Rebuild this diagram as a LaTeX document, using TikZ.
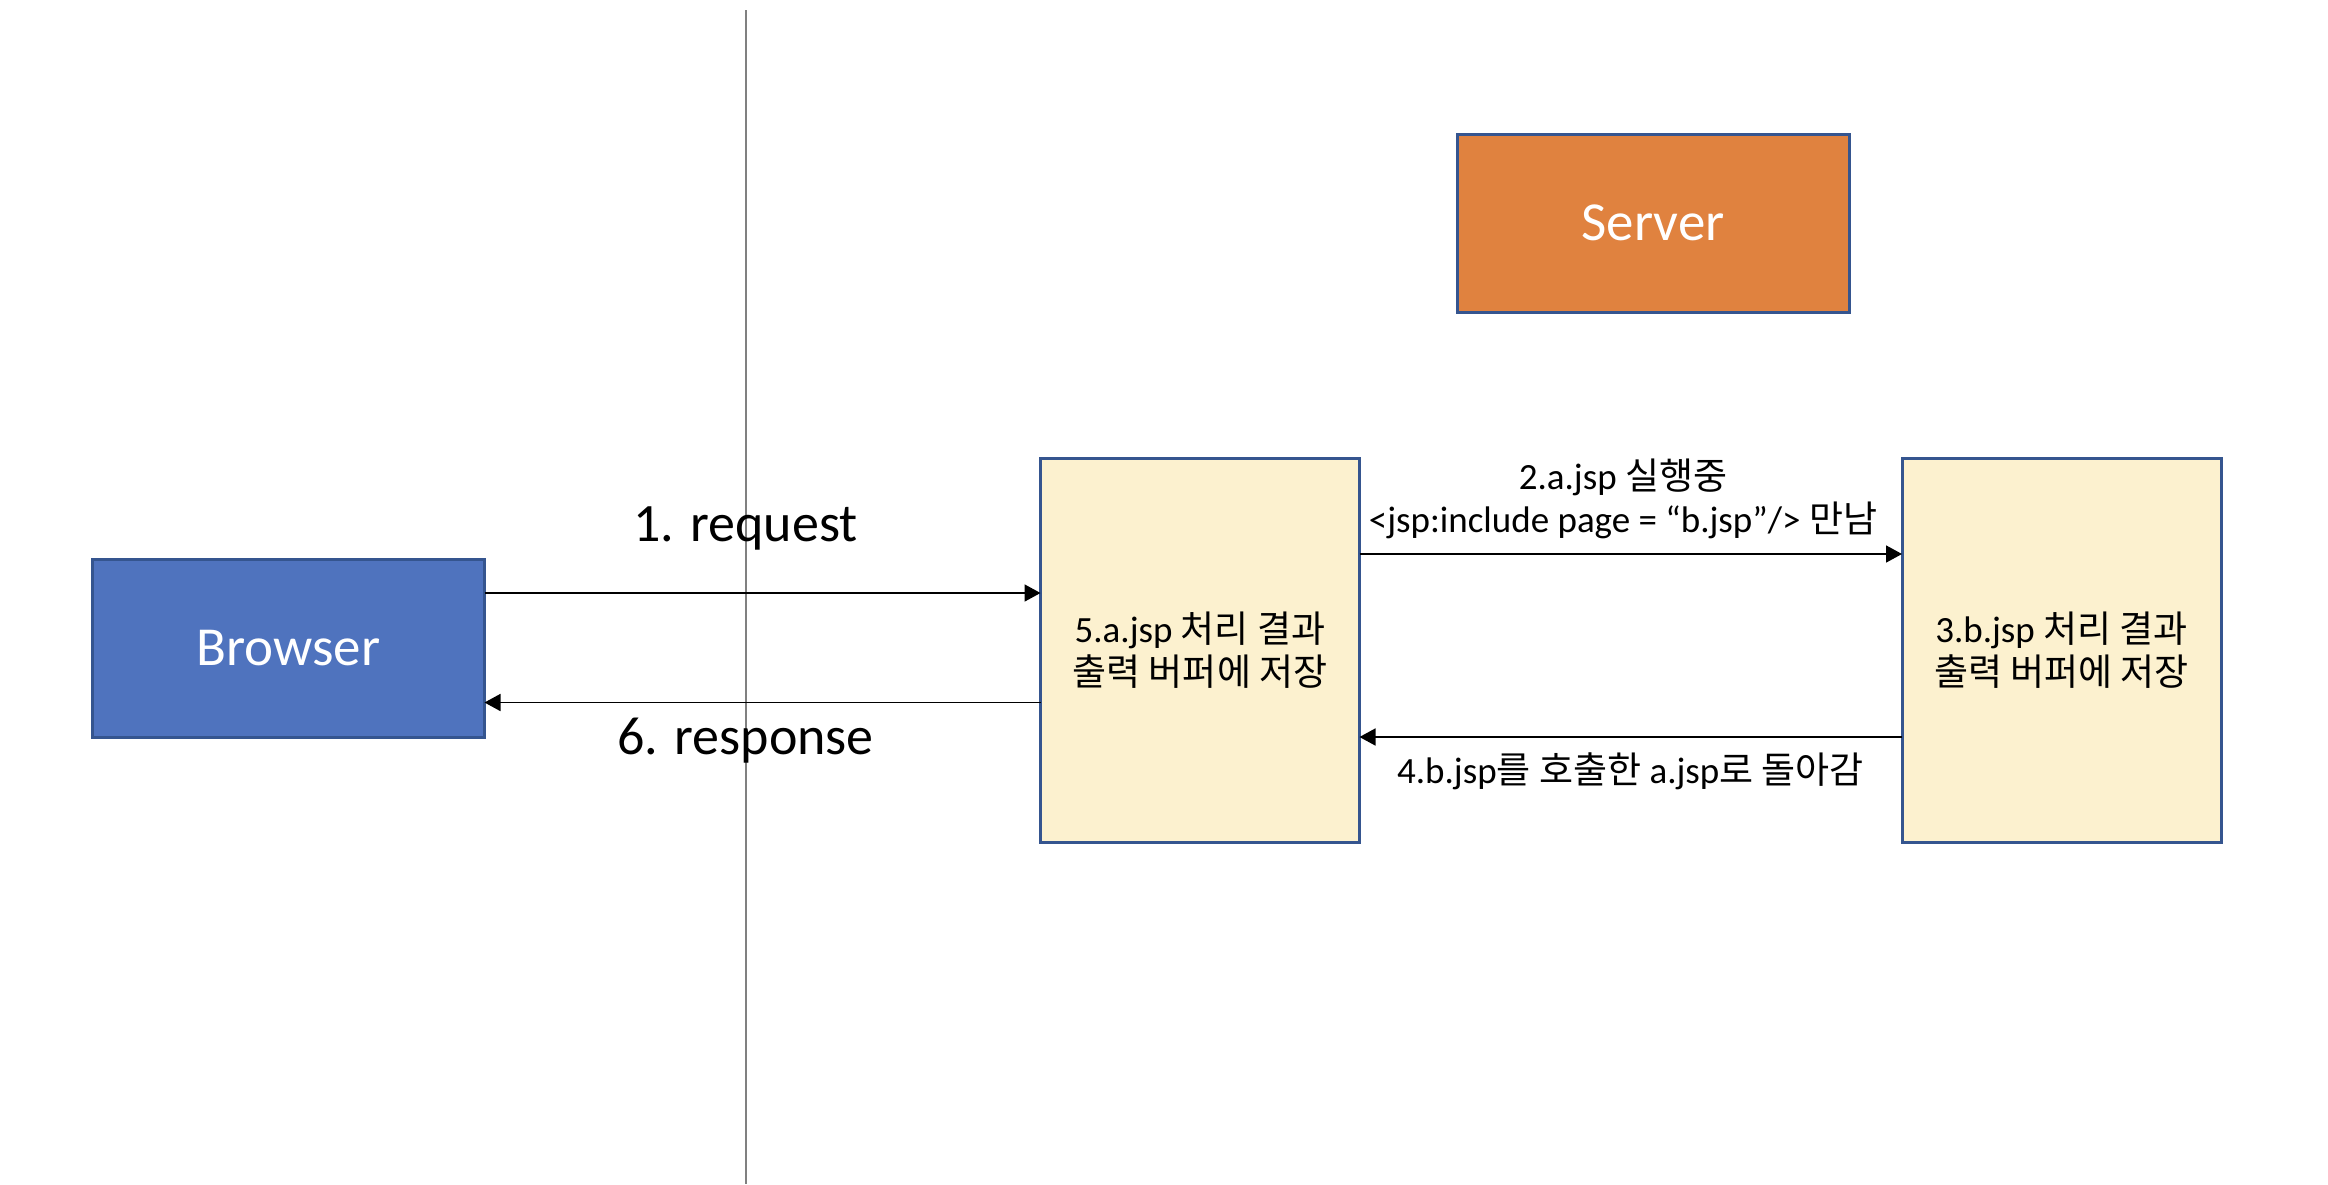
\documentclass[tikz,border=0pt]{standalone}
\usepackage{fontspec}
\setmainfont{Carlito}
\newfontfamily\kr{Noto Sans CJK KR}
\usetikzlibrary{arrows.meta,positioning}
\definecolor{boxline}{HTML}{35558F}
\definecolor{browserfill}{HTML}{4F73BE}
\definecolor{serverfill}{HTML}{E0823F}
\definecolor{pagefill}{HTML}{FCF1CF}
\tikzset{
	box/.style={draw=boxline, line width=1.5pt, outer sep=0pt, align=center, inner sep=0pt},
	big box/.style={box, minimum width=196pt, minimum height=89pt, text=white,
		font=\fontsize{27.5}{33}\selectfont},
	page box/.style={box, fill=pagefill, minimum width=159.5pt, minimum height=192pt,
		font=\fontsize{18.5}{21.5}\selectfont},
	ar/.style={-{Triangle[length=8pt,width=8.5pt]}, line width=0.85pt},
	step label/.style={font=\fontsize{18.5}{21.5}\selectfont, align=center, inner sep=0pt},
	call label/.style={font=\fontsize{27}{32}\selectfont, inner sep=0pt}
}
\begin{document}
\begin{tikzpicture}[x=0.5pt, y=-0.5pt]
	\useasboundingbox (0,0) rectangle (2328,1184);
	% client / server divider
	\draw[line width=1pt, gray] (745.5,10) -- (745.5,1184);
	\node[big box, fill=serverfill] (server) at (1653,223) {Server};
	\node[big box, fill=browserfill] (browser) at (288.5,648) {Browser};
	\node[page box] (ajsp) at (1200,650) {5.a.jsp {\kr 처리 결과}\\{\kr 출력 버퍼에 저장}};
	\node[page box, right=271.25pt of ajsp] (bjsp) {3.b.jsp {\kr 처리 결과}\\{\kr 출력 버퍼에 저장}};
	% request / response
	\draw[ar] ([yshift=27.5pt]browser.east) -- ([yshift=27.5pt]browser.east -| ajsp.west);
	\draw[ar] ([yshift=-27.25pt]browser.east -| ajsp.west) -- ([yshift=-27.25pt]browser.east);
	% include
	\draw[ar] ([yshift=48pt]ajsp.east) -- ([yshift=48pt]ajsp.east -| bjsp.west);
	\draw[ar] ([yshift=-43.5pt]ajsp.east -| bjsp.west) -- ([yshift=-43.5pt]ajsp.east);
	\node[call label] (req) at (745.5,528.5) {1. request};
	\node[call label] (res) at (745.5,741) {6. response};
	\node[step label] (incl) at (1623,499) {2.a.jsp {\kr 실행중}\\<jsp:include page = “b.jsp”/> {\kr 만남}};
	\node[step label] (back) at (1630.5,771) {4.b.jsp{\kr 를 호출한} a.jsp{\kr 로 돌아감}};
\end{tikzpicture}
\end{document}
